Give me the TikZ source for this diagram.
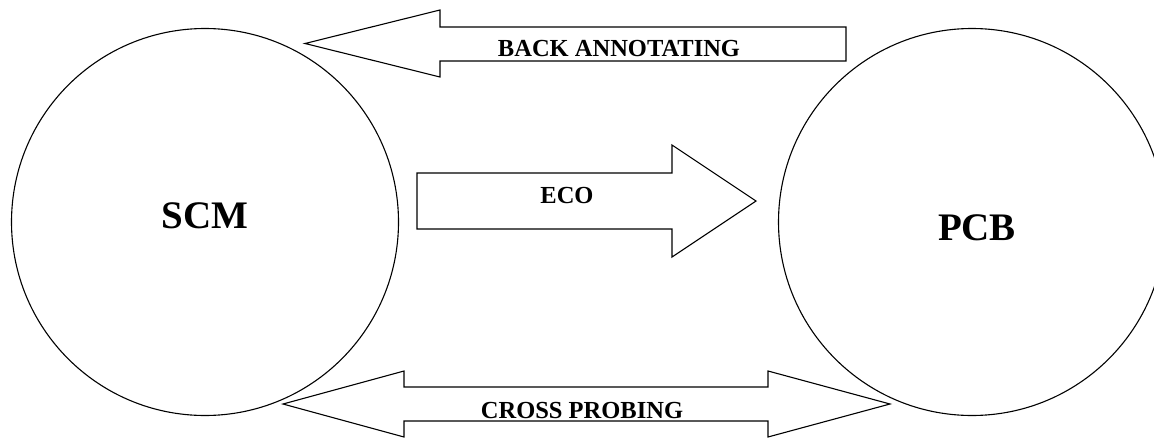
\documentclass[tikz,border=0pt]{standalone}
\usepackage{fontspec}
\setmainfont{Liberation Serif}
\begin{document}
\begin{tikzpicture}[x=1pt,y=-1pt,line width=1.1pt,line join=miter,
  ring/.style={circle,draw,minimum size=387pt,inner sep=0pt},
  blockarrow/.style={draw,fill=white},
  biglbl/.style={anchor=base,inner sep=0pt,font=\bfseries\fontsize{39}{39}\selectfont},
  lbl/.style={anchor=base,inner sep=0pt,font=\bfseries\fontsize{24.5}{24.5}\selectfont}]
\clip (0,0) rectangle (1154,439);
\useasboundingbox (0,0) rectangle (1154,439);
\node[ring] (scm) at (205,222) {};
\node[ring] (pcb) at (972,222) {};
\node[biglbl] (scmtext) at (205,228) {SCM};
\node[biglbl] (pcbtext) at (977,240) {PCB};
% back annotating arrow
\draw[blockarrow] (846,27) -- (440,27) -- (440,10) -- (305,43.5) -- (440,77) -- (440,61) -- (846,61) -- cycle;
\node[lbl] (backlbl) at (619,56) {BACK ANNOTATING};
% ECO arrow
\draw[blockarrow] (417,173) -- (672,173) -- (672,145) -- (756,201) -- (672,257) -- (672,229) -- (417,229) -- cycle;
\node[lbl] (ecolbl) at (567,203) {ECO};
% cross probing arrow
\draw[blockarrow] (283,404) -- (404,371) -- (404,387) -- (768,387) -- (768,371) -- (890,404) -- (768,437) -- (768,421) -- (404,421) -- (404,437) -- cycle;
\node[lbl] (crosslbl) at (582,418) {CROSS PROBING};
\end{tikzpicture}
\end{document}
